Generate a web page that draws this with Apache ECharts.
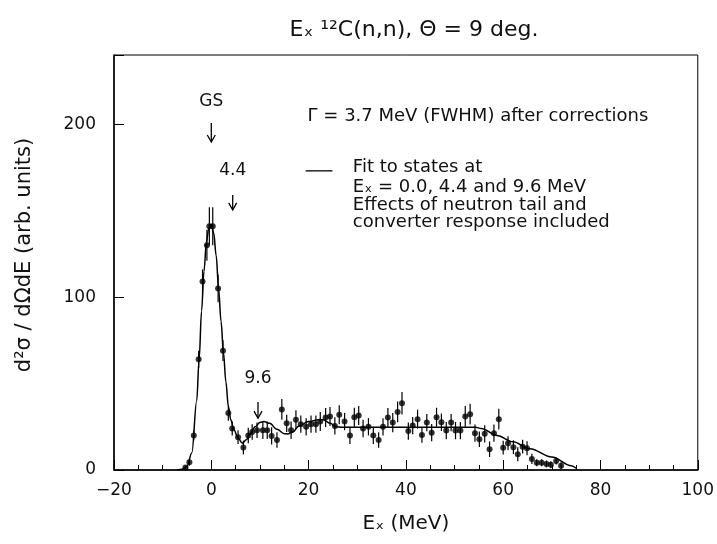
<!DOCTYPE html>
<html>
<head>
<meta charset="utf-8">
<script src="https://cdn.jsdelivr.net/npm/echarts@6/dist/echarts.min.js"></script>
<style>
html,body{margin:0;padding:0;background:#fff;}
#chart{width:717px;height:544px;}
</style>
</head>
<body>
<div id="chart"></div>
<script>
// ---- data ----
const dataE = [-5.3,-4.5,-3.6,-2.6,-1.8,-0.9,-0.4,0.3,1.4,2.4,3.5,4.3,5.5,6.6,7.6,8.4,9.4,10.6,11.5,12.4,13.5,14.5,15.5,16.4,17.4,18.4,19.5,20.5,21.5,22.4,23.5,24.4,25.4,26.3,27.4,28.5,29.4,30.3,31.2,32.3,33.3,34.4,35.3,36.3,37.3,38.3,39.2,40.5,41.4,42.4,43.3,44.3,45.3,46.3,47.3,48.3,49.3,50.2,51.2,52.2,53.2,54.2,55.1,56.2,57.2,58.1,59.1,60.0,61.0,62.1,63.0,64.0,64.9,65.9,66.9,67.9,68.9,69.8,70.9,71.9];
const dataY = [1.5,4.5,20,64,109,130,141,141,105,69,33,24,19,13,20,22,23,23,23,19.7,17.4,35,27,23,29,26.5,25,26.5,26.5,28,30.3,31,25.5,32,28,20,30.5,31.5,24,25,20,17.4,25,30.3,27.4,33.6,38.6,22.5,25.7,29.4,20.3,27.4,21.6,30.5,27.6,22.8,27.4,22.8,22.8,31,32.3,21.3,17.8,20.9,12,21.3,29.4,12.9,15.5,13.2,9.1,13.5,12.6,6.4,4.2,4.2,3.5,3,5.2,2.5];
const dataErr = [1,2,3,5,7,9,11,11,8,6,4.5,4,4,4,4.5,4.5,4.5,5,5,5,4.5,6,5,5,5.5,5,5,5,5,5.5,5.5,5.5,5,5.5,5,5,5.5,5.5,5,5,5,4.5,5,5.5,5.5,6,6.5,5,5,5.5,4.5,5,5,5.5,5,5,5,5,5,6,6,5,4.5,5,4.5,5,6,4,4,4,4,4,4,3,2,2,2,2,2,2];
const fitE = [-7,-6,-5,-4,-3,-2.5,-2,-1.5,-1,-0.5,0,0.5,1,1.5,2,2.5,3,3.5,4,4.7,5.5,6.4,7.2,8,9,10,10.8,12,13.5,15,15.8,16.8,18,20,22,23,24.5,25.5,27,40,54.3,55.5,58.7,62,65.5,70,74,75];
const fitY = [0,0.5,2,10,40,64,92,115,132,140,142,137,124,105,86,68,51,37,29,23,18.5,15.5,17.5,21,25,27.5,28,27,23.5,21,20.8,22,25.5,28,29,29,27,25,24.7,24.7,24.7,24,20,16.3,12.3,7.5,2.5,1];
const xTicks = [-20,0,20,40,60,80,100];
const yTicks = [0,100,200];
const stateLabels = [{text:'GS', e:0, y:213, a0:200.7, a1:189.7},
                     {text:'4.4', e:4.4, y:173, a0:159, a1:150.4},
                     {text:'9.6', e:9.6, y:53, a0:39.3, a1:30}];

const FONT = 'DejaVu Sans';
const chart = echarts.init(document.getElementById('chart'));

const points = dataE.map((e,i)=>[e, dataY[i]]);
const bars = dataE.map((e,i)=>[e, dataY[i], dataErr[i]]);
const fit = fitE.map((e,i)=>[e, fitY[i]]);

chart.setOption({
  backgroundColor:'#fff',
  animation:false,
  title:{
    text:'Eₓ ¹²C(n,n), Θ = 9 deg.',
    left:409, top:14, textAlign:'center',
    textStyle:{fontFamily:FONT, fontSize:22, fontWeight:'normal', color:'#111'}
  },
  grid:{left:114, right:12, top:55, bottom:74, show:true, borderColor:'#000', borderWidth:1, backgroundColor:'transparent'},
  xAxis:{
    type:'value', min:xTicks[0], max:xTicks[xTicks.length-1], interval:20,
    name:'Eₓ (MeV)', nameLocation:'middle', nameGap:44,
    nameTextStyle:{fontFamily:FONT, fontSize:20, color:'#111'},
    axisLine:{show:true, onZero:false, lineStyle:{color:'#000', width:1.5}},
    axisTick:{show:true, inside:true, length:10, lineStyle:{color:'#000', width:1}},
    minorTick:{show:true, splitNumber:4, length:5, lineStyle:{color:'#000', width:1}},
    splitLine:{show:false},
    axisLabel:{fontFamily:FONT, fontSize:17, color:'#111', margin:12,
      formatter:v=> xTicks.includes(v) ? (v<0 ? '−'+Math.abs(v) : String(v)) : ''}
  },
  yAxis:{
    type:'value', min:0, max:240, interval:100,
    axisLine:{show:true, onZero:false, lineStyle:{color:'#000', width:1.5}},
    axisTick:{show:true, inside:true, length:10, lineStyle:{color:'#000', width:1}},
    splitLine:{show:false},
    axisLabel:{fontFamily:FONT, fontSize:17, color:'#111', margin:18,
      formatter:v=> yTicks.includes(v) ? String(v) : ''}
  },
  series:[
    {type:'line', data:fit, showSymbol:false, smooth:0.35, smoothMonotone:'x',
     lineStyle:{color:'#000', width:1.5}, z:2},
    {type:'custom', data:bars, z:3,
     renderItem:(params, api)=>{
       const x = api.value(0), y = api.value(1), e = api.value(2);
       const p0 = api.coord([x, y-e]), p1 = api.coord([x, y+e]);
       return {type:'line', shape:{x1:p0[0], y1:p0[1], x2:p1[0], y2:p1[1]},
               style:{stroke:'#000', lineWidth:1.2}};
     }},
    {type:'scatter', data:points, symbol:'circle', symbolSize:6,
     itemStyle:{color:'#000'}, z:4}
  ]
});

// annotations placed through the axes' scales
function px(e, y){ return chart.convertToPixel({gridIndex:0}, [e, y]); }
const g = [];
stateLabels.forEach(s=>{
  const t = px(s.e, s.y);
  g.push({type:'text', x:t[0], y:t[1], style:{text:s.text, font:'17px '+FONT, fill:'#111', align:'center', verticalAlign:'middle'}});
  const a0 = px(s.e, s.a0), a1 = px(s.e, s.a1);
  g.push({type:'line', shape:{x1:a0[0], y1:a0[1], x2:a1[0], y2:a1[1]}, style:{stroke:'#000', lineWidth:1.3}});
  g.push({type:'polyline', shape:{points:[[a1[0]-4, a1[1]-7],[a1[0], a1[1]],[a1[0]+4, a1[1]-7]]}, style:{stroke:'#000', lineWidth:1.3, fill:null}});
});
const annot = [
  {text:'Γ = 3.7 MeV (FWHM) after corrections', e:19.8, y:204.7},
  {text:'Fit to states at', e:29.1, y:175.2},
  {text:'Eₓ = 0.0, 4.4 and 9.6 MeV', e:29.1, y:163.7},
  {text:'Effects of neutron tail and', e:29.1, y:153.3},
  {text:'converter response included', e:29.1, y:143.4}
];
annot.forEach(a=>{
  const p = px(a.e, a.y);
  g.push({type:'text', x:p[0], y:p[1], style:{text:a.text, font:'18px '+FONT, fill:'#111', align:'left', verticalAlign:'middle'}});
});
const l0 = px(19.4, 173), l1 = px(24.9, 173);
g.push({type:'line', shape:{x1:l0[0], y1:l0[1], x2:l1[0], y2:l1[1]}, style:{stroke:'#000', lineWidth:1.3}});
g.push({type:'text', x:25, y:255, rotation:Math.PI/2,
  style:{text:'d²σ / dΩdE (arb. units)', font:'21px '+FONT, fill:'#111', align:'center', verticalAlign:'middle'}});
chart.setOption({graphic:g});
</script>
</body>
</html>
